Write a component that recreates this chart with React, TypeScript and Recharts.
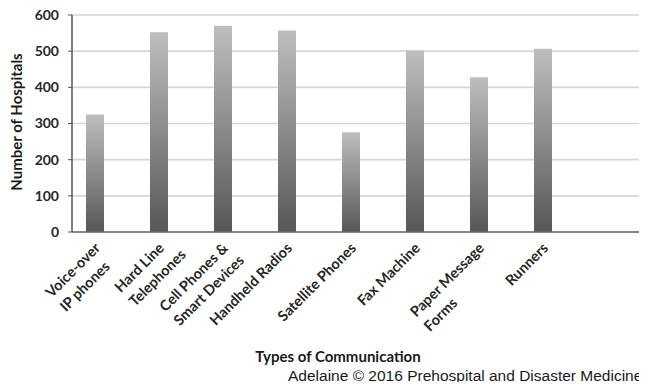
import { BarChart, Bar, XAxis, YAxis, CartesianGrid } from "recharts";

// Hospitals reporting each type of communication
const communicationTypes = [
  "Voice-over\nIP phones",
  "Hard Line\nTelephones",
  "Cell Phones &\nSmart Devices",
  "Handheld Radios",
  "Satellite Phones",
  "Fax Machine",
  "Paper Message\nForms",
  "Runners",
  "",
];
const hospitalCounts = [325, 552, 570, 557, 276, 502, 428, 507, null];
// second (empty) series in the original workbook, keeps each bar left of the category centre
const secondSeries = [null, null, null, null, null, null, null, null, null];
const yTicks = [0, 100, 200, 300, 400, 500, 600];

const chartData = communicationTypes.map((name, i) => ({
  name,
  hospitals: hospitalCounts[i],
  other: secondSeries[i],
}));

const LABEL_SIZE = 14.5;
const LABEL_FONT = `bold ${LABEL_SIZE}px Lato`;
const LINE_HEIGHT = 20;

let measureCtx: CanvasRenderingContext2D | null = null;
function textWidth(s: string) {
  if (!measureCtx) measureCtx = document.createElement("canvas").getContext("2d");
  if (!measureCtx) return s.length * 7.5;
  measureCtx.font = LABEL_FONT;
  return measureCtx.measureText(s).width;
}

// rotated, left-aligned two-line category label
function CategoryTick(props: any) {
  const { x, y, payload } = props;
  const lines: string[] = String(payload.value).split("\n");
  if (!lines[0]) return null;
  const w1 = textWidth(lines[0]);
  return (
    <g transform={`translate(${x - 3},${y + 17}) rotate(-45)`}>
      <text
        x={0}
        y={0}
        textAnchor="end"
        fontFamily="Lato"
        fontWeight="bold"
        fontSize={LABEL_SIZE}
        fill="#262626"
      >
        {lines[0]}
      </text>
      {lines[1] && (
        <text
          x={-w1}
          y={LINE_HEIGHT}
          textAnchor="start"
          fontFamily="Lato"
          fontWeight="bold"
          fontSize={LABEL_SIZE}
          fill="#262626"
        >
          {lines[1]}
        </text>
      )}
    </g>
  );
}

export default function App() {
  return (
    <div
      style={{
        position: "relative",
        width: 647,
        height: 390,
        margin: -8,
        overflow: "hidden",
        background: "#fff",
      }}
    >
      <BarChart
        width={648}
        height={390}
        data={chartData}
        margin={{ top: 15, right: 0, bottom: 0, left: 0 }}
        barCategoryGap={14}
        barGap={0}
      >
        <defs>
          <linearGradient id="barFill" x1="0" y1="0" x2="0" y2="1">
            <stop offset="0%" stopColor="#bebebe" />
            <stop offset="100%" stopColor="#575757" />
          </linearGradient>
        </defs>
        <CartesianGrid vertical={false} stroke="#d6d6d6" strokeWidth={1.6} />
        <XAxis
          dataKey="name"
          height={158}
          interval={0}
          tickLine={false}
          tickSize={0}
          tickMargin={0}
          tick={<CategoryTick />}
          axisLine={{ stroke: "#6a6a6a", strokeWidth: 1.5 }}
        />
        <YAxis
          width={72}
          domain={[0, 600]}
          ticks={yTicks}
          tickSize={4}
          tickMargin={9}
          tickLine={{ stroke: "#555" }}
          axisLine={{ stroke: "#555", strokeWidth: 1.5 }}
          tick={{
            fontFamily: "Lato",
            fontWeight: "bold",
            fontSize: 14,
            fill: "#262626",
          }}
        />
        <Bar
          dataKey="hospitals"
          fill="url(#barFill)"
          isAnimationActive={false}
        />
        <Bar dataKey="other" fill="#888" isAnimationActive={false} />
      </BarChart>
      <svg
        width={647}
        height={390}
        style={{ position: "absolute", left: 0, top: 0, pointerEvents: "none" }}
      >
        <text
          transform="translate(22,122) rotate(-90)"
          textAnchor="middle"
          fontFamily="Lato"
          fontWeight="bold"
          fontSize={15}
          fill="#1a1a1a"
        >
          Number of Hospitals
        </text>
        <text
          x={338}
          y={362}
          textAnchor="middle"
          fontFamily="Lato"
          fontWeight="bold"
          fontSize={15}
          fill="#1a1a1a"
        >
          Types of Communication
        </text>
        <text
          x={288}
          y={381}
          fontFamily="'Liberation Sans', Arial, sans-serif"
          fontSize={15.5}
          fill="#1a1a1a"
        >
          Adelaine © 2016 Prehospital and Disaster Medicine
        </text>
      </svg>
    </div>
  );
}
